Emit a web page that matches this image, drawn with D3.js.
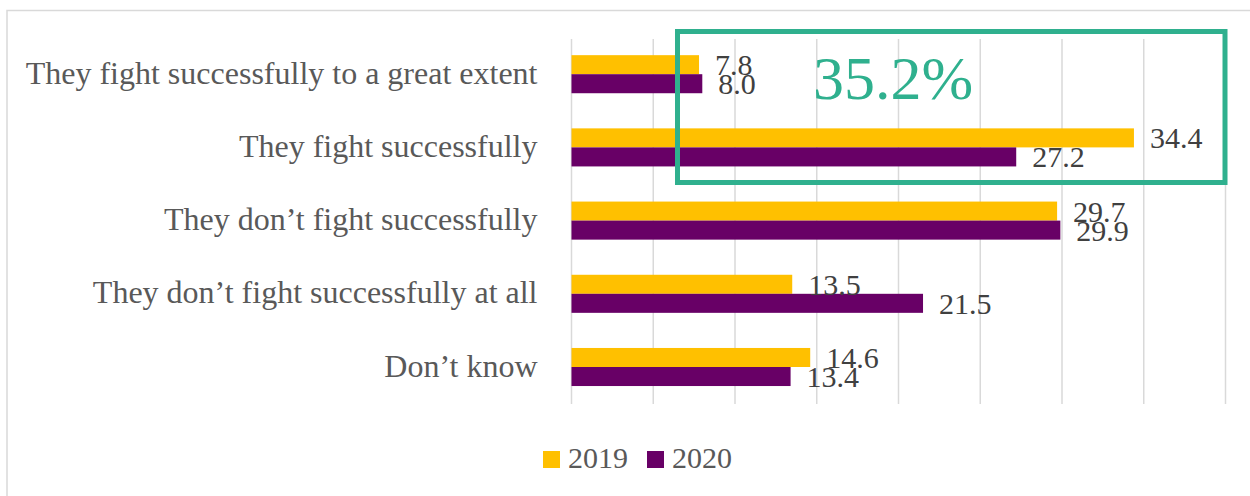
<!DOCTYPE html>
<html>
<head>
<meta charset="utf-8">
<script src="https://cdn.jsdelivr.net/npm/d3@7/dist/d3.min.js"></script>
<style>
  html, body { margin: 0; padding: 0; background: #ffffff; }
  svg { display: block; }
  text { font-family: "Liberation Serif", "Times New Roman", serif; }
</style>
</head>
<body>
<svg id="chart" width="1250" height="496"></svg>
<script>
// Survey answers, top to bottom
const categories = [
  "They fight successfully to a great extent",
  "They fight successfully",
  "They don’t fight successfully",
  "They don’t fight successfully at all",
  "Don’t know"
];
const seriesNames = ["2019", "2020"];
const values2019 = [7.8, 34.4, 29.7, 13.5, 14.6];
const values2020 = [8.0, 27.2, 29.9, 21.5, 13.4];
const xTicks = [0, 5, 10, 15, 20, 25, 30, 35, 40];
const colors = ["#ffc000", "#680066"];

// Highlighted share: both "successfully" answers in 2020
const highlightValue = values2020[0] + values2020[1];

const svg = d3.select("#chart");
const W = 1250, H = 496;

// Chart area border
svg.append("rect")
  .attr("x", 7).attr("y", 10.5)
  .attr("width", W).attr("height", H)
  .attr("fill", "#fff")
  .attr("stroke", "#d9d9d9").attr("stroke-width", 1.5);

const x = d3.scaleLinear().domain([0, 40]).range([571.5, 1225.5]);
const y = d3.scaleBand().domain(categories).range([37.6, 403.6])
  .paddingInner(0.48).paddingOuter(0.24);
const ySeries = d3.scaleBand().domain(seriesNames).range([0, y.bandwidth()]);

// Vertical gridlines
svg.append("g").selectAll("line")
  .data(xTicks)
  .join("line")
  .attr("x1", d => x(d)).attr("x2", d => x(d))
  .attr("y1", 39).attr("y2", 404)
  .attr("stroke", "#d9d9d9").attr("stroke-width", 1.5);

const rows = categories.map((c, i) => ({
  category: c,
  items: [
    { series: "2019", value: values2019[i] },
    { series: "2020", value: values2020[i] }
  ]
}));

const group = svg.append("g").selectAll("g")
  .data(rows)
  .join("g")
  .attr("transform", d => `translate(0,${y(d.category)})`);

group.selectAll("rect")
  .data(d => d.items)
  .join("rect")
  .attr("x", x(0))
  .attr("y", d => ySeries(d.series))
  .attr("width", d => x(d.value) - x(0))
  .attr("height", ySeries.bandwidth())
  .attr("fill", (d, i) => colors[i]);

group.selectAll("text")
  .data(d => d.items)
  .join("text")
  .attr("x", d => x(d.value) + 16)
  .attr("y", d => ySeries(d.series) + ySeries.bandwidth() / 2)
  .attr("dy", "0.35em")
  .attr("font-size", 30)
  .attr("fill", "#404040")
  .text(d => d3.format(".1f")(d.value));

// Category axis
const yAxis = d3.axisLeft(y).tickSize(0).tickPadding(34);
const gy = svg.append("g").attr("transform", `translate(${x(0)},0)`).call(yAxis);
gy.select(".domain").remove();
gy.selectAll("text")
  .attr("font-family", "Liberation Serif, serif")
  .attr("font-size", 32)
  .attr("fill", "#595959")
  .attr("dy", "0.3em");

// Highlight frame around the "successfully" answers
const teal = "#2fb08e";
svg.append("rect")
  .attr("x", 677.5).attr("y", 31.5)
  .attr("width", x(40) - 677.5 - 0.5)
  .attr("height", 151)
  .attr("fill", "none")
  .attr("stroke", teal).attr("stroke-width", 5);

svg.append("text")
  .attr("x", 893).attr("y", 99)
  .attr("text-anchor", "middle")
  .attr("font-size", 62)
  .attr("fill", teal)
  .text(d3.format(".1f")(highlightValue) + "%");

// Legend
const legendX = [543, 647];
const legend = svg.append("g").selectAll("g")
  .data(seriesNames)
  .join("g")
  .attr("transform", (d, i) => `translate(${legendX[i]},451)`);
legend.append("rect")
  .attr("width", 17).attr("height", 17)
  .attr("fill", (d, i) => colors[i]);
legend.append("text")
  .attr("x", 25).attr("y", 17)
  .attr("font-size", 30)
  .attr("fill", "#595959")
  .text(d => d);
</script>
</body>
</html>
